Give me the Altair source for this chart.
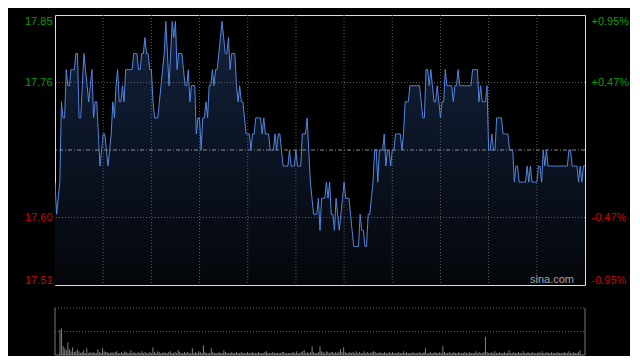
import altair as alt
import pandas as pd

PREV_CLOSE = 17.68
PCT_LIMIT = 0.0095

prices = [
    17.64, 17.60, 17.62, 17.64, 17.74, 17.72, 17.72, 17.78, 17.76, 17.76,
    17.78, 17.78, 17.78, 17.80, 17.80, 17.72, 17.72, 17.76, 17.80, 17.78,
    17.76, 17.74, 17.76, 17.78, 17.72, 17.74, 17.74, 17.70, 17.66, 17.68,
    17.70, 17.70, 17.68, 17.66, 17.68, 17.70, 17.74, 17.72, 17.76, 17.78,
    17.74, 17.74, 17.76, 17.74, 17.78, 17.78, 17.78, 17.78, 17.78, 17.80,
    17.80, 17.80, 17.78, 17.78, 17.80, 17.80, 17.82, 17.80, 17.80, 17.78,
    17.78, 17.74, 17.72, 17.72, 17.72, 17.74, 17.76, 17.78, 17.80, 17.84,
    17.80, 17.76, 17.80, 17.84, 17.82, 17.84, 17.78, 17.80, 17.80, 17.80,
    17.78, 17.76, 17.76, 17.78, 17.74, 17.76, 17.76, 17.76, 17.70, 17.72,
    17.72, 17.68, 17.72, 17.72, 17.74, 17.72, 17.76, 17.76, 17.78, 17.76,
    17.78, 17.78, 17.80, 17.82, 17.84, 17.82, 17.80, 17.80, 17.82, 17.78,
    17.80, 17.80, 17.80, 17.76, 17.74, 17.76, 17.74, 17.74, 17.72, 17.70,
    17.70, 17.70, 17.68, 17.70, 17.70, 17.72, 17.72, 17.72, 17.72, 17.70,
    17.72, 17.70, 17.70, 17.70, 17.68, 17.68, 17.68, 17.70, 17.68, 17.70,
    17.70, 17.68, 17.66, 17.66, 17.66, 17.66, 17.68, 17.66, 17.66, 17.66,
    17.68, 17.66, 17.66, 17.66, 17.70, 17.70, 17.70, 17.72, 17.68, 17.64,
    17.62, 17.60, 17.60, 17.60, 17.62, 17.58, 17.62, 17.62, 17.62, 17.64,
    17.62, 17.64, 17.60, 17.60, 17.58, 17.62, 17.60, 17.58, 17.60, 17.62,
    17.64, 17.62, 17.62, 17.62, 17.60, 17.58, 17.56, 17.56, 17.56, 17.56,
    17.60, 17.58, 17.58, 17.56, 17.56, 17.60, 17.60, 17.62, 17.64, 17.68,
    17.68, 17.64, 17.68, 17.68, 17.68, 17.70, 17.66, 17.68, 17.68, 17.66,
    17.68, 17.68, 17.70, 17.70, 17.70, 17.70, 17.68, 17.70, 17.74, 17.74,
    17.74, 17.76, 17.76, 17.76, 17.76, 17.76, 17.76, 17.76, 17.74, 17.72,
    17.72, 17.78, 17.78, 17.76, 17.78, 17.76, 17.74, 17.74, 17.76, 17.74,
    17.72, 17.74, 17.74, 17.78, 17.76, 17.76, 17.76, 17.76, 17.74, 17.76,
    17.76, 17.78, 17.76, 17.76, 17.76, 17.76, 17.76, 17.76, 17.76, 17.76,
    17.78, 17.78, 17.78, 17.78, 17.74, 17.76, 17.74, 17.74, 17.74, 17.76,
    17.68, 17.68, 17.70, 17.68, 17.68, 17.72, 17.72, 17.72, 17.72, 17.70,
    17.70, 17.70, 17.70, 17.68, 17.68, 17.68, 17.64, 17.66, 17.66, 17.64,
    17.64, 17.64, 17.64, 17.64, 17.66, 17.64, 17.66, 17.64, 17.64, 17.64,
    17.64, 17.66, 17.66, 17.64, 17.68, 17.66, 17.68, 17.66, 17.66, 17.66,
    17.66, 17.66, 17.66, 17.66, 17.66, 17.66, 17.66, 17.66, 17.66, 17.66,
    17.68, 17.68, 17.66, 17.66, 17.66, 17.66, 17.64, 17.66, 17.64, 17.66,
    17.66,
]

volumes = [
    260, 280, 90, 70, 50, 130, 60, 40, 80, 30,
    40, 60, 40, 20, 30, 50, 20, 70, 20, 30,
    20, 30, 20, 20, 60, 30, 20, 70, 40, 30,
    30, 20, 20, 30, 20, 30, 40, 20, 20, 30,
    20, 40, 30, 20, 20, 50, 20, 30, 20, 20,
    30, 20, 40, 20, 30, 20, 20, 30, 20, 80,
    30, 20, 40, 30, 20, 20, 30, 20, 20, 30,
    40, 20, 20, 30, 20, 50, 30, 20, 20, 30,
    20, 30, 20, 20, 70, 20, 30, 20, 40, 30,
    20, 100, 30, 20, 20, 20, 70, 30, 20, 20,
    20, 30, 20, 20, 50, 30, 20, 20, 20, 30,
    20, 20, 30, 20, 20, 30, 20, 20, 20, 30,
    20, 20, 30, 20, 20, 20, 30, 20, 20, 20,
    30, 40, 20, 20, 20, 30, 20, 20, 20, 20,
    20, 30, 30, 20, 20, 20, 20, 20, 30, 20,
    40, 20, 20, 30, 40, 50, 20, 30, 20, 30,
    90, 30, 20, 20, 30, 90, 40, 30, 20, 40,
    30, 20, 30, 30, 20, 30, 20, 30, 60, 30,
    80, 30, 20, 20, 30, 20, 30, 20, 40, 20,
    30, 20, 20, 40, 20, 30, 20, 20, 30, 40,
    30, 20, 20, 30, 20, 20, 30, 20, 20, 30,
    20, 30, 20, 20, 20, 30, 20, 20, 40, 20,
    30, 20, 20, 20, 30, 20, 20, 20, 30, 20,
    20, 30, 70, 20, 20, 30, 20, 20, 30, 20,
    20, 30, 20, 90, 30, 20, 20, 30, 20, 20,
    30, 20, 20, 30, 20, 20, 20, 30, 20, 20,
    30, 20, 20, 20, 40, 20, 30, 20, 20, 30,
    190, 30, 20, 20, 30, 20, 40, 20, 20, 30,
    20, 20, 30, 20, 20, 50, 20, 20, 30, 20,
    20, 30, 20, 20, 40, 20, 20, 30, 20, 20,
    30, 20, 20, 20, 30, 20, 40, 20, 20, 30,
    20, 20, 30, 20, 20, 20, 30, 20, 20, 20,
    30, 20, 20, 40, 20, 20, 30, 20, 20, 30,
    50,
]

minutes = list(range(len(prices)))
grid_minutes = [30, 60, 90, 120, 150, 180, 210, 240, 270, 300]
right_labels = ["+0.95%", "+0.47%", "-0.47%", "-0.95%"]
VOL_TOP = 490

lo = PREV_CLOSE * (1 - PCT_LIMIT)
hi = PREV_CLOSE * (1 + PCT_LIMIT)
q_lo = PREV_CLOSE * (1 - PCT_LIMIT / 2)
q_hi = PREV_CLOSE * (1 + PCT_LIMIT / 2)
tick_values = [hi, q_hi, q_lo, lo]

df = pd.DataFrame({"minute": minutes, "price": prices, "volume": volumes})

W, H, VH = 530, 270, 47
GREEN = "#00a000"
RED = "#d00000"
GRID = "#5e5e5e"
FONT = "Arial"

xs = alt.Scale(domain=[0, len(prices) - 1], nice=False, zero=False)
ys = alt.Scale(domain=[lo, hi], nice=False, zero=False)

label_color = alt.condition(f"datum.value > {PREV_CLOSE}", alt.value(GREEN), alt.value(RED))

left_axis = alt.Axis(
    values=tick_values, format=".2f", orient="left", ticks=False, domain=False,
    grid=False, labelPadding=3, labelFontSize=11, labelFont=FONT,
    labelColor=label_color, labelFlush=True, minExtent=46, maxExtent=46, title=None,
)

expr = ""
for v, s in zip(tick_values, right_labels):
    expr += f"abs(datum.value - {v}) < 1e-6 ? '{s}' : "
expr += "''"

right_axis = alt.Axis(
    values=tick_values, labelExpr=expr, orient="right", ticks=False, domain=False,
    grid=False, labelPadding=6, labelFontSize=11, labelFont=FONT,
    labelColor=label_color, labelFlush=True, title=None,
)

X = alt.X("minute:Q", scale=xs, axis=None)

area = alt.Chart(df).mark_area(
    clip=True,
    color=alt.Gradient(
        gradient="linear",
        stops=[alt.GradientStop(color="#13223d", offset=0),
               alt.GradientStop(color="#04060a", offset=1)],
        x1=0, x2=0, y1=0, y2=1,
    ),
).encode(x=X, y=alt.Y("price:Q", scale=ys, axis=left_axis), y2=alt.datum(lo))

line = alt.Chart(df).mark_line(color="#4f87e2", strokeWidth=1, clip=True).encode(
    x=X, y=alt.Y("price:Q", scale=ys, axis=left_axis)
)

vgrid = alt.Chart(pd.DataFrame({"minute": grid_minutes})).mark_rule(
    color=GRID, strokeDash=[1, 2], strokeWidth=1
).encode(x=X)

hgrid = alt.Chart(pd.DataFrame({"level": [q_hi, q_lo]})).mark_rule(
    color=GRID, strokeDash=[1, 2], strokeWidth=1
).encode(y=alt.Y("level:Q", scale=ys, axis=left_axis))

prev_rule = alt.Chart(pd.DataFrame({"level": [PREV_CLOSE]})).mark_rule(
    color="#8c8c8c", strokeDash=[4, 2, 1, 2], strokeWidth=1
).encode(y=alt.Y("level:Q", scale=ys, axis=left_axis))

brand = alt.Chart(pd.DataFrame({"t": ["sina.com"]})).mark_text(
    align="right", baseline="alphabetic", fontSize=11, color="#a3a3a3", font=FONT
).encode(text="t:N", x=alt.value(519), y=alt.value(268))

right_layer = alt.Chart(pd.DataFrame({"level": [PREV_CLOSE]})).mark_rule(opacity=0).encode(
    y=alt.Y("level:Q", scale=ys, axis=right_axis)
)

main = alt.layer(
    alt.layer(area, vgrid, hgrid, prev_rule, line, brand),
    right_layer,
).resolve_scale(y="independent").properties(width=W, height=H)

vol_bars = alt.Chart(df).mark_bar(size=1, color="#808080").encode(
    x=X, y=alt.Y("volume:Q", scale=alt.Scale(domain=[0, VOL_TOP]), axis=None)
)
border = "#7a7a7a"
v_left = alt.Chart().mark_rule(color=border).encode(
    x=alt.value(0), y=alt.value(0), y2=alt.value(VH))
v_right = alt.Chart().mark_rule(color=border).encode(
    x=alt.value(W), y=alt.value(0), y2=alt.value(VH))
v_bottom = alt.Chart().mark_rule(color=border).encode(
    x=alt.value(0), x2=alt.value(W), y=alt.value(VH))
v_top = alt.Chart().mark_rule(color=GRID, strokeDash=[1, 2]).encode(
    x=alt.value(0), x2=alt.value(W), y=alt.value(0))
v_mid = alt.Chart().mark_rule(color=GRID, strokeDash=[1, 2]).encode(
    x=alt.value(0), x2=alt.value(W), y=alt.value(VH / 2))

volume = alt.layer(vol_bars, v_mid, v_top, v_left, v_right, v_bottom).properties(
    width=W, height=VH, view=alt.ViewBackground(stroke=None)
)

chart = alt.vconcat(main, volume, spacing=21).properties(
    padding={"left": 0, "top": 6, "right": 0, "bottom": 0},
    background="#000000",
).configure_view(stroke="#777777", strokeWidth=1).configure(font=FONT)

chart.save("out.html", embed_options={"renderer": "svg", "actions": False})
